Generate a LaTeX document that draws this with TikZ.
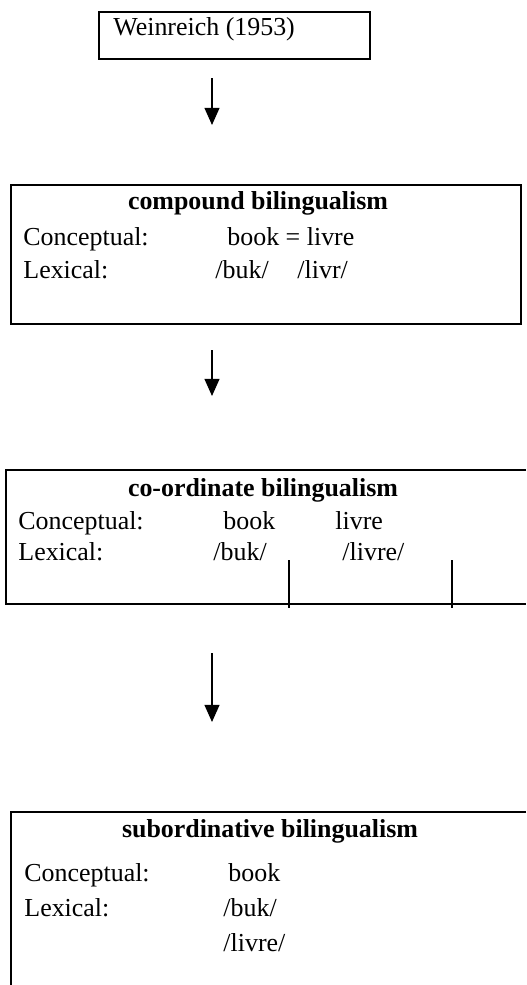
\documentclass[tikz,border=0pt]{standalone}
\usepackage{fontspec}
\setmainfont{Liberation Serif}
\usetikzlibrary{arrows.meta}

\tikzset{
  txt/.style={anchor=base west, inner sep=0pt},
  ttl/.style={anchor=base, inner sep=0pt, font=\fontsize{12}{14}\selectfont\bfseries},
  frame/.style={line width=0.7pt},
  down/.style={line width=0.6pt, -{Triangle[length=7.9pt,width=6.9pt]}}
}

\begin{document}
\begin{tikzpicture}[x=0.463pt,y=-0.463pt,font=\fontsize{12}{14}\selectfont]
\useasboundingbox (0,0) rectangle (526,985);

%% boxes
\draw[frame] (99,12) rectangle (370,59);                    %% weinreich
\draw[frame] (11,185) rectangle (521,324);                  %% compound
\draw[frame] (526,470) -- (6,470) -- (6,604) -- (526,604);  %% co-ordinate
\draw[frame] (289,560) -- (289,608);
\draw[frame] (452,560) -- (452,608);
\draw[frame] (526,812) -- (11,812) -- (11,985);             %% subordinative

%% box texts
\node[txt] (wein) at (113,35) {Weinreich (1953)};

\node[ttl] (cmp) at (258,209) {compound bilingualism};
\node[txt] (cmpc) at (23,245) {Conceptual:};
\node[txt] (cmpcw) at (227,245) {book = livre};
\node[txt] (cmpl) at (23,278) {Lexical:};
\node[txt] (cmplb) at (215,278) {/buk/};
\node[txt] (cmpll) at (297,278) {/livr/};

\node[ttl] (crd) at (263,496) {co-ordinate bilingualism};
\node[txt] (crdc) at (18,529) {Conceptual:};
\node[txt] (crdcb) at (223,529) {book};
\node[txt] (crdcl) at (335,529) {livre};
\node[txt] (crdl) at (18,560) {Lexical:};
\node[txt] (crdlb) at (213,560) {/buk/};
\node[txt] (crdll) at (342,560) {/livre/};

\node[ttl] (sub) at (270,837) {subordinative bilingualism};
\node[txt] (subc) at (24,881) {Conceptual:};
\node[txt] (subcb) at (228,881) {book};
\node[txt] (subl) at (24,916) {Lexical:};
\node[txt] (sublb) at (223,916) {/buk/};
\node[txt] (subll) at (223,951) {/livre/};

%% arrows
\coordinate (a1) at (212,78);
\coordinate (b1) at (212,125);
\coordinate (a2) at (212,350);
\coordinate (b2) at (212,396);
\coordinate (a3) at (212,653);
\coordinate (b3) at (212,722);
\draw[down] (a1) -- (b1);
\draw[down] (a2) -- (b2);
\draw[down] (a3) -- (b3);

\end{tikzpicture}
\end{document}
